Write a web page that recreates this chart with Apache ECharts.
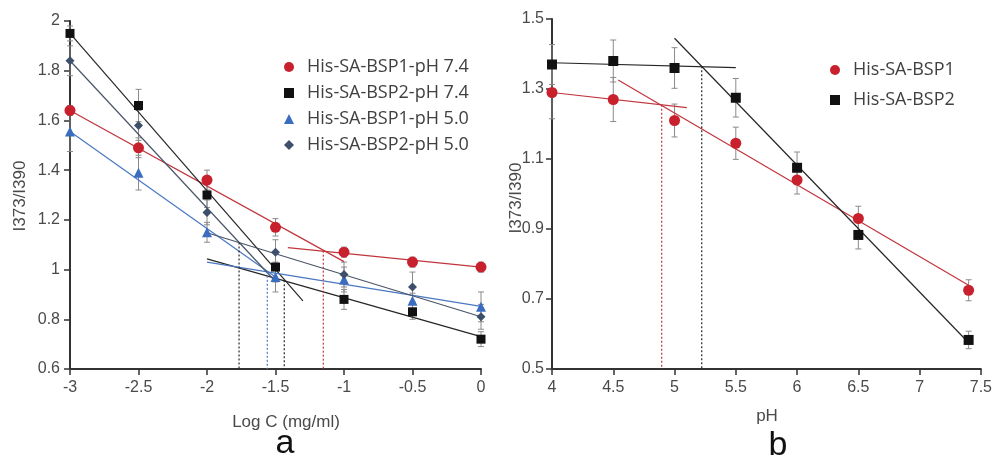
<!DOCTYPE html>
<html>
<head>
<meta charset="utf-8">
<script src="https://cdn.jsdelivr.net/npm/echarts@6/dist/echarts.min.js"></script>
<style>html,body{margin:0;padding:0;background:#fff}#c{width:995px;height:462px}</style>
</head>
<body>
<div id="c"></div>
<script>
// ---------- Panel a data ----------
const logC = [-3, -2.5, -2, -1.5, -1, -0.5, 0];
const bsp1_pH74 = [1.64, 1.49, 1.36, 1.17, 1.07, 1.03, 1.01];
const bsp1_pH74_err = [0.02, 0.04, 0.04, 0.035, 0.02, 0.02, 0.02];
const bsp2_pH74 = [1.95, 1.66, 1.30, 1.01, 0.88, 0.83, 0.72];
const bsp2_pH74_err = [0.03, 0.065, 0.05, 0.06, 0.04, 0.03, 0.03];
const bsp1_pH50 = [1.555, 1.39, 1.15, 0.97, 0.96, 0.875, 0.85];
const bsp1_pH50_err = [0.08, 0.07, 0.04, 0.06, 0.05, 0.03, 0.06];
const bsp2_pH50 = [1.84, 1.58, 1.23, 1.07, 0.98, 0.93, 0.81];
const bsp2_pH50_err = [0.06, 0.06, 0.05, 0.05, 0.05, 0.06, 0.05];

// trend line endpoints
const fitA_bsp1_74_steep = [[-3, 1.64], [-1.0, 1.032]];
const fitA_bsp1_74_flat  = [[-1.41, 1.088], [0, 1.01]];
const fitA_bsp2_74_steep = [[-3, 1.95], [-1.3, 0.874]];
const fitA_bsp2_74_flat  = [[-2, 1.043], [0, 0.73]];
const fitA_bsp1_50_steep = [[-3, 1.555], [-1.48, 0.962]];
const fitA_bsp1_50_flat  = [[-2, 1.03], [0, 0.852]];
const fitA_bsp2_50_steep = [[-3, 1.84], [-1.5, 0.952]];
const fitA_bsp2_50_flat  = [[-2, 1.148], [0, 0.81]];
// break points (x, y at intersection)
const breakA_bsp1_74 = [-1.151, 1.076];
const breakA_bsp2_74 = [-1.436, 0.957];
const breakA_bsp1_50 = [-1.56, 0.991];
const breakA_bsp2_50 = [-1.766, 1.109];

// ---------- Panel b data ----------
const pH = [4, 4.5, 5, 5.5, 6, 6.5, 7.4];
const bsp1 = [1.29, 1.27, 1.21, 1.145, 1.04, 0.93, 0.725];
const bsp1_err = [0.075, 0.063, 0.047, 0.046, 0.04, 0.035, 0.03];
const bsp2 = [1.37, 1.38, 1.36, 1.275, 1.075, 0.883, 0.583];
const bsp2_err = [0.057, 0.06, 0.058, 0.055, 0.045, 0.04, 0.025];
const fitB_bsp1_flat  = [[4, 1.29], [5.1, 1.247]];
const fitB_bsp1_steep = [[4.54, 1.326], [7.4, 0.739]];
const fitB_bsp2_flat  = [[4, 1.375], [5.5, 1.361]];
const fitB_bsp2_steep = [[5.0, 1.445], [7.4, 0.575]];
const breakB_bsp1 = [4.895, 1.255];
const breakB_bsp2 = [5.222, 1.365];

// tick settings
const axA_x = {min: -3, max: 0, interval: 0.5};
const axA_y = {min: 0.6, max: 2, interval: 0.2};
const axB_x = {min: 4, max: 7.5, interval: 0.5};
const axB_y = {min: 0.5, max: 1.5, interval: 0.2};

// ---------- styles ----------
const RED = '#c8202c', RED_L = '#c0353c';
const BLK = '#111111', BLK_L = '#262626';
const BLU = '#3a6cc0', BLU_L = '#4a78c0';
const DIA = '#3e4f6c', DIA_L = '#4a5568';
const ERR = '#8a8a8a';
const AX = '#333333';
const TXT = '#4a4a4a';

const zip = (xs, ys) => xs.map((x, i) => [x, ys[i]]);
const zip3 = (xs, ys, es) => xs.map((x, i) => [x, ys[i], es[i]]);

function errSeries(idx, data) {
  return {
    type: 'custom', xAxisIndex: idx, yAxisIndex: idx, silent: true, z: 1,
    data: data,
    renderItem: function (params, api) {
      const x = api.value(0), y = api.value(1), e = api.value(2);
      const top = api.coord([x, y + e]);
      const bot = api.coord([x, y - e]);
      const hw = 3;
      const st = {stroke: ERR, lineWidth: 1};
      return {type: 'group', children: [
        {type: 'line', shape: {x1: top[0], y1: top[1], x2: bot[0], y2: bot[1]}, style: st},
        {type: 'line', shape: {x1: top[0] - hw, y1: top[1], x2: top[0] + hw, y2: top[1]}, style: st},
        {type: 'line', shape: {x1: bot[0] - hw, y1: bot[1], x2: bot[0] + hw, y2: bot[1]}, style: st}
      ]};
    }
  };
}
function fitLine(idx, pts, color) {
  return {type: 'line', xAxisIndex: idx, yAxisIndex: idx, data: pts, symbol: 'none', silent: true, z: 2,
    lineStyle: {color: color, width: 1.2}};
}
function dropLine(idx, pt, ymin, color) {
  return {type: 'line', xAxisIndex: idx, yAxisIndex: idx, data: [[pt[0], pt[1]], [pt[0], ymin]], symbol: 'none', silent: true, z: 2,
    lineStyle: {color: color, width: 1.2, type: [2, 2]}};
}
function scat(idx, name, data, symbol, size, color) {
  return {type: 'scatter', name: name, xAxisIndex: idx, yAxisIndex: idx, data: data, symbol: symbol, symbolSize: size, z: 5,
    itemStyle: {color: color, opacity: 1}};
}

function xAxisCfg(idx, ax) {
  return {type: 'value', gridIndex: idx, min: ax.min, max: ax.max, interval: ax.interval,
    axisLine: {show: true, onZero: false, lineStyle: {color: AX, width: 2}},
    axisTick: {show: true, length: 6, lineStyle: {color: AX, width: 1.5}},
    axisLabel: {color: TXT, fontSize: 16, fontFamily: 'Liberation Sans', margin: 11},
    splitLine: {show: false}};
}
function yAxisCfg(idx, ax, margin) {
  return {type: 'value', gridIndex: idx, min: ax.min, max: ax.max, interval: ax.interval,
    axisLine: {show: true, onZero: false, lineStyle: {color: AX, width: 2}},
    axisTick: {show: true, length: 6, lineStyle: {color: AX, width: 1.5}},
    axisLabel: {color: TXT, fontSize: 16, fontFamily: 'Liberation Sans', margin: margin,
      formatter: v => String(Math.round(v * 100) / 100)},
    splitLine: {show: false}};
}

const names = ['His-SA-BSP1-pH 7.4', 'His-SA-BSP2-pH 7.4', 'His-SA-BSP1-pH 5.0', 'His-SA-BSP2-pH 5.0'];
const namesB = ['His-SA-BSP1', 'His-SA-BSP2'];

const option = {
  animation: false,
  backgroundColor: '#ffffff',
  grid: [
    {left: 70, top: 21, width: 411, height: 348},
    {left: 552, top: 19, width: 431, height: 350}
  ],
  xAxis: [xAxisCfg(0, axA_x), xAxisCfg(1, axB_x)],
  yAxis: [yAxisCfg(0, axA_y, 10), yAxisCfg(1, axB_y, 8)],
  legend: [
    {data: names, orient: 'vertical', left: 279, top: 53, itemWidth: 10, itemHeight: 10, itemGap: 8,
      textStyle: {color: '#404040', fontSize: 18, fontFamily: 'Open Sans', padding: [0, 0, 0, 8]}},
    {data: namesB, orient: 'vertical', left: 825, top: 56, itemWidth: 10, itemHeight: 10, itemGap: 12,
      textStyle: {color: '#404040', fontSize: 18, fontFamily: 'Open Sans', padding: [0, 0, 0, 8]}}
  ],
  graphic: [
    {type: 'text', x: 20, y: 196, rotation: Math.PI / 2, style: {text: 'I373/I390', fill: TXT, fontSize: 17, fontFamily: 'Liberation Sans', align: 'center', verticalAlign: 'middle'}},
    {type: 'text', x: 516, y: 198, rotation: Math.PI / 2, style: {text: 'I373/I390', fill: TXT, fontSize: 17, fontFamily: 'Liberation Sans', align: 'center', verticalAlign: 'middle'}},
    {type: 'text', x: 286, y: 422, style: {text: 'Log C (mg/ml)', fill: TXT, fontSize: 17, fontFamily: 'Liberation Sans', align: 'center', verticalAlign: 'middle'}},
    {type: 'text', x: 767, y: 416, style: {text: 'pH', fill: TXT, fontSize: 17, fontFamily: 'Liberation Sans', align: 'center', verticalAlign: 'middle'}},
    {type: 'text', x: 285, y: 444, style: {text: 'a', fill: '#111', fontSize: 34, fontFamily: 'Liberation Sans', align: 'center', verticalAlign: 'middle'}},
    {type: 'text', x: 778, y: 446, style: {text: 'b', fill: '#111', fontSize: 34, fontFamily: 'Liberation Sans', align: 'center', verticalAlign: 'middle'}}
  ],
  series: [
    errSeries(0, zip3(logC, bsp1_pH74, bsp1_pH74_err)),
    errSeries(0, zip3(logC, bsp2_pH74, bsp2_pH74_err)),
    errSeries(0, zip3(logC, bsp1_pH50, bsp1_pH50_err)),
    errSeries(0, zip3(logC, bsp2_pH50, bsp2_pH50_err)),
    fitLine(0, fitA_bsp1_74_steep, RED_L), fitLine(0, fitA_bsp1_74_flat, RED_L),
    fitLine(0, fitA_bsp2_74_steep, BLK_L), fitLine(0, fitA_bsp2_74_flat, BLK_L),
    fitLine(0, fitA_bsp1_50_steep, BLU_L), fitLine(0, fitA_bsp1_50_flat, BLU_L),
    fitLine(0, fitA_bsp2_50_steep, DIA_L), fitLine(0, fitA_bsp2_50_flat, DIA_L),
    dropLine(0, breakA_bsp1_74, axA_y.min, RED_L),
    dropLine(0, breakA_bsp2_74, axA_y.min, BLK_L),
    dropLine(0, breakA_bsp1_50, axA_y.min, BLU_L),
    dropLine(0, breakA_bsp2_50, axA_y.min, BLK_L),
    scat(0, names[0], zip(logC, bsp1_pH74), 'circle', 11, RED),
    scat(0, names[1], zip(logC, bsp2_pH74), 'rect', 9, BLK),
    scat(0, names[2], zip(logC, bsp1_pH50), 'triangle', 10, BLU),
    scat(0, names[3], zip(logC, bsp2_pH50), 'diamond', 9, DIA),

    errSeries(1, zip3(pH, bsp1, bsp1_err)),
    errSeries(1, zip3(pH, bsp2, bsp2_err)),
    fitLine(1, fitB_bsp1_flat, RED_L), fitLine(1, fitB_bsp1_steep, RED_L),
    fitLine(1, fitB_bsp2_flat, BLK_L), fitLine(1, fitB_bsp2_steep, BLK_L),
    dropLine(1, breakB_bsp1, axB_y.min, RED_L),
    dropLine(1, breakB_bsp2, axB_y.min, BLK_L),
    scat(1, namesB[0], zip(pH, bsp1), 'circle', 11, RED),
    scat(1, namesB[1], zip(pH, bsp2), 'rect', 10, BLK)
  ]
};

const chart = echarts.init(document.getElementById('c'), null, {renderer: 'canvas'});
chart.setOption(option);
</script>
</body>
</html>
